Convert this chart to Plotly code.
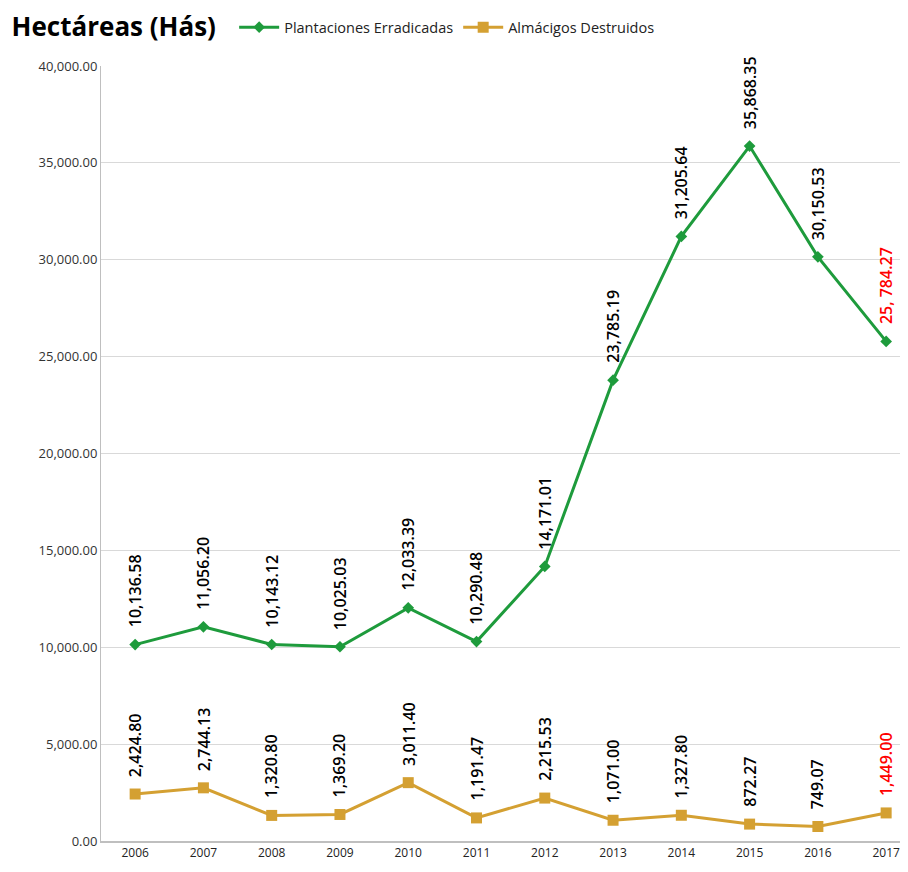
import plotly.graph_objs as go

years = ["2006", "2007", "2008", "2009", "2010", "2011", "2012", "2013", "2014", "2015", "2016", "2017"]
plantaciones = [10136.58, 11056.20, 10143.12, 10025.03, 12033.39, 10290.48, 14171.01, 23785.19, 31205.64, 35868.35, 30150.53, 25784.27]
almacigos = [2424.80, 2744.13, 1320.80, 1369.20, 3011.40, 1191.47, 2215.53, 1071.00, 1327.80, 872.27, 749.07, 1449.00]
plant_labels = ["10,136.58", "11,056.20", "10,143.12", "10,025.03", "12,033.39", "10,290.48", "14,171.01",
                "23,785.19", "31,205.64", "35,868.35", "30,150.53", "25, 784.27"]
alm_labels = ["2,424.80", "2,744.13", "1,320.80", "1,369.20", "3,011.40", "1,191.47", "2,215.53",
              "1,071.00", "1,327.80", "872.27", "749.07", "1,449.00"]

GREEN = "#1e9b3c"
GOLD = "#d4a032"

fig = go.Figure()
fig.add_scatter(x=list(range(len(years))), y=plantaciones, mode='lines+markers', name='Plantaciones Erradicadas',
                line=dict(color=GREEN, width=3), marker=dict(size=9, symbol='diamond', color=GREEN))
fig.add_scatter(x=list(range(len(years))), y=almacigos, mode='lines+markers', name='Almácigos Destruidos',
                line=dict(color=GOLD, width=3), marker=dict(size=11, symbol='square', color=GOLD))

# etiquetas de datos rotadas
for series, labels in [(plantaciones, plant_labels), (almacigos, alm_labels)]:
    for i, (v, t) in enumerate(zip(series, labels)):
        col = "red" if i == len(years) - 1 else "#000000"
        fig.add_annotation(x=i, y=v, text=t, textangle=-90, showarrow=False, yanchor='bottom',
                           yshift=15, font=dict(family='Open Sans, sans-serif', size=16, color=col, weight=600))

fig.update_layout(
    title=dict(text='<b>Hectáreas (Hás)</b>', x=0.004, xref='container', xanchor='left',
               y=0.978, yref='container', yanchor='middle',
               font=dict(family='Open Sans, sans-serif', size=26, color='#000')),
    font=dict(family='Open Sans, sans-serif', size=12, color='#333'),
    plot_bgcolor='#FFFFFF', paper_bgcolor='#FFFFFF',
    width=900, height=864,
    margin=dict(l=93, r=0, t=58, b=31),
    showlegend=True,
    legend=dict(orientation='h', x=0.165, y=1.05, xanchor='left', yanchor='middle',
                font=dict(size=14.5, color='#222'), bgcolor='rgba(0,0,0,0)', itemwidth=40),
    yaxis=dict(range=[0, 40000], dtick=5000, tickformat=',.2f', showgrid=True, gridcolor='#d9d9d9',
               zeroline=False, showline=True, linecolor='#bfbfbf', linewidth=1, ticks='',
               tickfont=dict(size=13, color='#333')),
    xaxis=dict(range=[-0.5, 11.32], tickmode='array', tickvals=list(range(len(years))), ticktext=years,
               showgrid=False, zeroline=False, showline=True, linecolor='#bfbfbf', linewidth=2,
               tickfont=dict(size=12, color='#222')),
)

fig.write_html("out.html")
